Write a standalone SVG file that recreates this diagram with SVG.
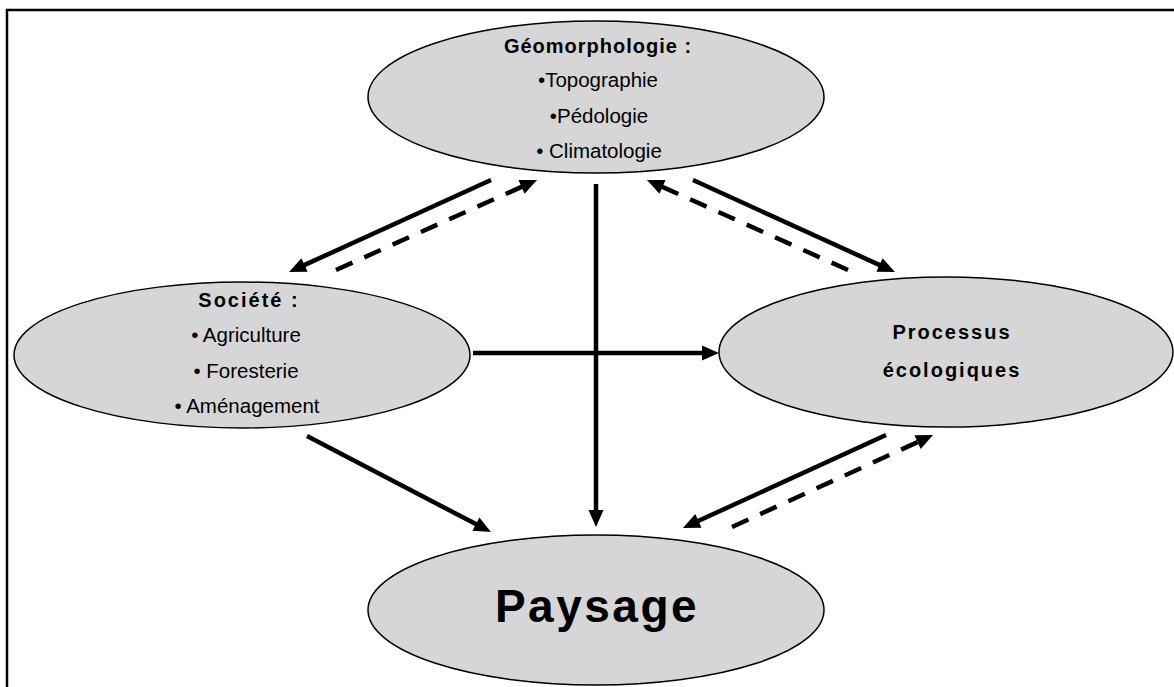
<svg xmlns="http://www.w3.org/2000/svg" width="1174" height="687" viewBox="0 0 1174 687">
<style>
.node ellipse{fill:#d6d6d6;stroke:#000;stroke-width:1.5}
.t{font-family:"Liberation Sans",Arial,sans-serif;font-size:20.5px;fill:#000;text-anchor:middle}
.h{font-weight:bold;font-size:20px;letter-spacing:1px}
.c line{stroke:#000;stroke-width:4.5;fill:none}
.c line.d{stroke-dasharray:18 13}
</style>
<defs>
<marker id="ah" markerUnits="userSpaceOnUse" markerWidth="18" markerHeight="16" refX="1" refY="8" orient="auto" overflow="visible">
<path d="M0,0.5 L17,8 L0,15.5 Z" fill="#000"/>
</marker>
</defs>
<rect x="7" y="10" width="1200" height="700" fill="#fff" stroke="#000" stroke-width="2.5"/>
<g id="geomorphologie" class="node">
<ellipse cx="596" cy="97" rx="228" ry="76"/>
<text class="t h" x="598" y="53">Géomorphologie :</text>
<text class="t" x="598" y="87">•Topographie</text>
<text class="t" x="599" y="123">•Pédologie</text>
<text class="t" x="599" y="158">• Climatologie</text>
</g>
<g id="societe" class="node">
<ellipse cx="242" cy="355" rx="228" ry="73"/>
<text class="t h" x="249" y="307" style="letter-spacing:2px">Société :</text>
<text class="t" x="246" y="342">• Agriculture</text>
<text class="t" x="246" y="378">• Foresterie</text>
<text class="t" x="247" y="413">• Aménagement</text>
</g>
<g id="processus" class="node">
<ellipse cx="946" cy="352" rx="227" ry="75"/>
<text class="t h" x="952" y="339" style="letter-spacing:2px">Processus</text>
<text class="t h" x="952" y="377" style="letter-spacing:2px">écologiques</text>
</g>
<g id="paysage" class="node">
<ellipse cx="596" cy="610" rx="228" ry="75"/>
<text class="t" x="597" y="622" style="font-size:46px;font-weight:bold;letter-spacing:2.5px">Paysage</text>
</g>
<g id="connectors" class="c">
<line x1="491" y1="180" x2="303.6" y2="265.4" marker-end="url(#ah)"/>
<line class="d" x1="336" y1="270" x2="522.4" y2="186.5" marker-end="url(#ah)"/>
<line x1="693" y1="180" x2="880.4" y2="265.4" marker-end="url(#ah)"/>
<line class="d" x1="848" y1="270" x2="661.6" y2="186.5" marker-end="url(#ah)"/>
<line x1="596" y1="184" x2="596" y2="511" marker-end="url(#ah)"/>
<line x1="473" y1="353" x2="703" y2="353" marker-end="url(#ah)"/>
<line x1="307" y1="436" x2="476.8" y2="524.6" marker-end="url(#ah)"/>
<line x1="886" y1="435" x2="697.5" y2="521.3" marker-end="url(#ah)"/>
<line class="d" x1="732" y1="527" x2="918.5" y2="441.7" marker-end="url(#ah)"/>
</g>
</svg>
